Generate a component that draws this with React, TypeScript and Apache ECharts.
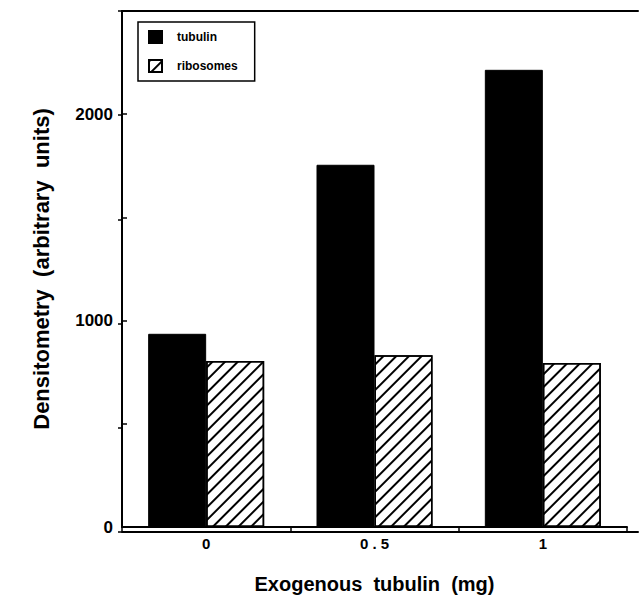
import React, { useEffect, useRef } from "react";
import * as echarts from "echarts";

const categories = ["0", "0 . 5", "1"];
const tubulin = [936, 1755, 2215];
const ribosomes = [804, 832, 795];
const yLabels = [0, 1000, 2000];

export default function App() {
  const ref = useRef<HTMLDivElement>(null);
  useEffect(() => {
    if (!ref.current) return;
    const chart = echarts.init(ref.current, null, { renderer: "svg" });
    const font = "Liberation Sans, Arial, Helvetica, sans-serif";
    chart.setOption({
      animation: false,
      backgroundColor: "#fff",
      textStyle: { fontFamily: font },
      legend: {
        orient: "vertical",
        left: 138,
        top: 22,
        itemWidth: 13,
        itemHeight: 12,
        itemGap: 15,
        padding: [8, 17, 8, 10],
        borderColor: "#000",
        borderWidth: 1.5,
        borderRadius: 0,
        textStyle: { fontSize: 12, fontWeight: "bold", color: "#000", fontFamily: font, padding: [0, 0, 0, 10] },
        data: [
          { name: "tubulin", icon: "rect" },
          { name: "ribosomes", icon: "rect" },
        ],
      },
      grid: [
        { left: 122, top: 11, width: 505, height: 521 },
        { left: 122, top: 11, right: 1, height: 521 },
      ],
      xAxis: [
        {
          type: "category",
          gridIndex: 0,
          data: categories,
          boundaryGap: true,
          axisLine: { show: true, lineStyle: { color: "#000", width: 2 } },
          axisTick: { show: true, inside: false, length: 4, lineStyle: { color: "#000", width: 1.5 } },
          axisLabel: { color: "#000", fontSize: 15, fontWeight: "bold", margin: 9, fontFamily: font },
          name: "Exogenous  tubulin  (mg)",
          nameLocation: "middle",
          nameGap: 47,
          nameTextStyle: { color: "#000", fontSize: 20, fontWeight: "bold", fontFamily: font, verticalAlign: "top" },
        },
        {
          type: "value",
          gridIndex: 1,
          position: "bottom",
          min: 0,
          max: 1,
          axisLine: { show: true, lineStyle: { color: "#000", width: 2 } },
          axisTick: { show: false },
          axisLabel: { show: false },
          splitLine: { show: false },
        },
        {
          type: "value",
          gridIndex: 1,
          position: "top",
          min: 0,
          max: 1,
          axisLine: { show: true, lineStyle: { color: "#000", width: 2 } },
          axisTick: { show: false },
          axisLabel: { show: false },
          splitLine: { show: false },
        },
      ],
      yAxis: [
        {
          type: "value",
          gridIndex: 0,
          min: 0,
          max: 2500,
          interval: 500,
          axisLine: { show: true, lineStyle: { color: "#000", width: 2 } },
          axisTick: { show: true, inside: true, length: 5, lineStyle: { color: "#000", width: 1.5 } },
          axisLabel: {
            color: "#000",
            fontSize: 17,
            fontWeight: "bold",
            margin: 9,
            fontFamily: font,
            formatter: (v: number) => (yLabels.includes(v) ? String(v) : ""),
          },
          splitLine: { show: false },
          name: "Densitometry  (arbitrary  units)",
          nameLocation: "middle",
          nameGap: 70,
          nameTextStyle: { color: "#000", fontSize: 22, fontWeight: "bold", fontFamily: font },
        },
        {
          type: "value",
          gridIndex: 1,
          position: "right",
          min: 0,
          max: 2500,
          interval: 500,
          axisLine: { show: false },
          axisTick: { show: true, inside: true, length: 4, lineStyle: { color: "#000", width: 1.5 } },
          axisLabel: { show: false },
          splitLine: { show: false },
        },
      ],
      series: [
        {
          name: "tubulin",
          type: "bar",
          xAxisIndex: 0,
          yAxisIndex: 0,
          data: tubulin,
          barWidth: 58,
          barGap: "0%",
          itemStyle: { color: "#000", borderColor: "#000", borderWidth: 1 },
        },
        {
          name: "ribosomes",
          type: "bar",
          xAxisIndex: 0,
          yAxisIndex: 0,
          data: ribosomes,
          barWidth: 58,
          barGap: "0%",
          itemStyle: {
            color: "#fff",
            borderColor: "#000",
            borderWidth: 1.5,
            decal: {
              symbol: "rect",
              color: "#000",
              backgroundColor: "#fff",
              dashArrayX: [1, 0],
              dashArrayY: [1.6, 6.2],
              rotation: -Math.PI / 4,
            },
          },
        },
      ],
    });
    return () => chart.dispose();
  }, []);
  return <div ref={ref} style={{ position: "fixed", left: 0, top: 0, width: 639, height: 599 }} />;
}
